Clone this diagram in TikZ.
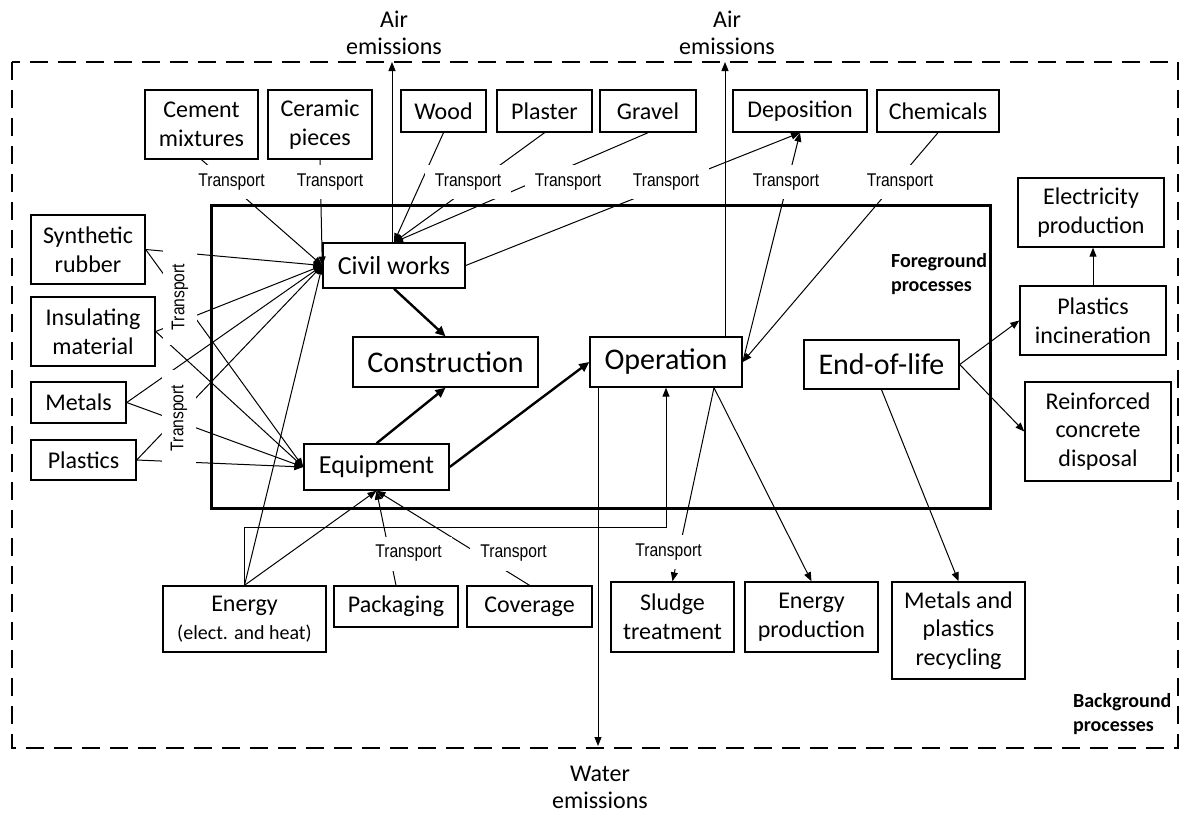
\documentclass[tikz,border=0pt]{standalone}
\usepackage{fontspec}
\setmainfont{Carlito}
\newfontfamily\transfont[FakeStretch=0.85]{Liberation Sans}
\usetikzlibrary{positioning,arrows.meta}
\tikzset{box/.style 2 args={draw, line width=0.7pt, align=center, inner sep=1pt, minimum width=#1*0.5pt, minimum height=#2*0.5pt, font=\fontsize{12}{14.3}\selectfont},
	stage/.style 2 args={box={#1}{#2}, font=\fontsize{13}{15}\selectfont},
	phase/.style 2 args={box={#1}{#2}, font=\fontsize{15}{17}\selectfont},
	trans/.style={fill=white, inner xsep=5pt, inner ysep=0pt, minimum height=17pt, font=\transfont\fontsize{9.2}{11}\selectfont},
	flow/.style={line width=0.5pt, -{Triangle[length=4.5pt,width=3.5pt]}},
	mainflow/.style={line width=1.2pt, -{Triangle[length=5pt,width=4.5pt]}},
	note/.style={align=left, font=\bfseries\fontsize{10}{12}\selectfont},
	emis/.style={align=center, font=\fontsize{12}{13.5}\selectfont}}

\begin{document}
\begin{tikzpicture}[x=0.5pt,y=-0.5pt]
				\useasboundingbox (0,0) rectangle (1183,815);
				\draw[line width=1.3pt, dash pattern=on 9pt off 5pt] (12,62) rectangle (1178,748);
				\draw[line width=1.5pt] (211,205) rectangle (990,508);

				% foreground
				\node[stage={142}{45}] (civil) at (394,265.5) {Civil works};
				\node[stage={145}{46}] (equip) at (376.5,467) {Equipment};
				\node[phase={185}{50}] (constr) at (445.5,362) {Construction};
				\node[phase={152}{50}] (oper) at (666,362) {Operation};
				\node[phase={155}{49}] (eol) at (881.5,364.5) {End-of-life};

				% background, top row
				\node[box={113}{69}] (cement) at (201.5,124.5) {Cement\\mixtures};
				\node[box={104}{69}] (ceramic) at (320,124.5) {Ceramic\\pieces};
				\node[box={85}{42}] (wood) at (443.5,111) {Wood};
				\node[box={95}{42}] (plaster) at (544.5,111) {Plaster};
				\node[box={96}{42}] (gravel) at (648,111) {Gravel};
				\node[box={134}{42}] (depos) at (800,111) {Deposition};
				\node[box={122}{42}] (chem) at (938,111) {Chemicals};

				% background, left column
				\node[box={114}{69}] (rubber) at (88,249.5) {Synthetic\\rubber};
				\node[box={124}{69}] (insul) at (93,331.5) {Insulating\\material};
				\node[box={95}{41}] (metals) at (78.5,402.5) {Metals};
				\node[box={105}{40}] (plast) at (83.5,460) {Plastics};

				% background, right column
				\node[box={146}{69}] (elec) at (1091,212.5) {Electricity\\production};
				\node[box={146}{69}] (incin) at (1093,320.5) {Plastics\\incineration};
				\node[box={146}{99}] (rcd) at (1098,431.5) {Reinforced\\concrete\\disposal};

				% background, bottom row
				\node[box={163}{66}] (energy) at (244.5,619) {Energy\\{\fontsize{10}{13}\selectfont (elect. and heat)}};
				\node[box={124}{41}] (pack) at (396,606.5) {Packaging};
				\node[box={125}{41}] (cover) at (529.5,606.5) {Coverage};
				\node[box={123}{70}] (sludge) at (672.5,617) {Sludge\\treatment};
				\node[box={133}{70}] (eprod) at (811.5,617) {Energy\\production};
				\node[box={133}{97}] (recyc) at (958.5,630.5) {Metals and\\plastics\\recycling};

				% emissions
				\node[emis] (airL) at (394,33) {Air\\emissions};
				\node[emis] (airR) at (727,33) {Air\\emissions};
				\node[emis] (water) at (600,787) {Water\\emissions};
				\coordinate (airLend) at (392,62);
				\coordinate (airRend) at (725,62);
				\coordinate (waterend) at (598,746);

				\node[note, anchor=west] (fg) at (884,274) {Foreground\\processes};
				\node[note, anchor=west] (bg) at (1066,714) {Background\\processes};

				\path[flow]
				(cement.south) edge (civil.west)
				(ceramic.south) edge (civil.west)
				(wood.south) edge (civil.north)
				(plaster.south) edge (civil.north)
				(gravel.south) edge (civil.north)
				(civil.east) edge (depos.south)
				(oper.east) edge (depos.south)
				(chem.south) edge (oper.east)
				(rubber.east) edge (civil.west)
				(rubber.east) edge (equip.west)
				(insul.east) edge (civil.west)
				(insul.east) edge (equip.west)
				(metals.east) edge (civil.west)
				(metals.east) edge (equip.west)
				(plast.east) edge (civil.west)
				(plast.east) edge (equip.west)
				(energy.north) edge (civil.west)
				(energy.north) edge (equip.south)
				(pack.north) edge (equip.south)
				(cover.north) edge (equip.south)
				([xshift=24pt]oper.south) edge (sludge.north)
				([xshift=24pt]oper.south) edge (eprod.north)
				(eol.south) edge (recyc.north)
				(eol.east) edge (incin.west)
				(eol.east) edge (rcd.west)
				(incin.north) edge (incin.north |- elec.south)
				(civil.north -| airLend) edge (airLend)
				(oper.north -| airRend) edge (airRend)
				(oper.south -| waterend) edge (waterend);
				\draw[flow] (energy.north) -- ++(0,-58) -| (oper.south);

				\path[mainflow]
				(civil.south) edge (constr.north)
				(equip.north) edge (constr.south)
				(equip.east) edge (oper.west);

				% transport labels
				\node[trans] (tA) at (231.5,182) {Transport};
				\node[trans] (tB) at (330,182) {Transport};
				\node[trans] (tC) at (468,182) {Transport};
				\node[trans] (tD) at (568,182) {Transport};
				\node[trans] (tE) at (666,182) {Transport};
				\node[trans] (tF) at (786,182) {Transport};
				\node[trans] (tG) at (900,182) {Transport};
				\node[trans, rotate=90, minimum width=48pt] (tL1) at (180,297) {Transport};
				\node[trans, rotate=90, minimum width=48pt] (tL2) at (179,418) {Transport};
				\node[trans] (tP) at (408.5,553.5) {Transport};
				\node[trans] (tQ) at (513.5,553.5) {Transport};
				\node[trans] (tS) at (668.5,552) {Transport};
			\end{tikzpicture}
\end{document}
